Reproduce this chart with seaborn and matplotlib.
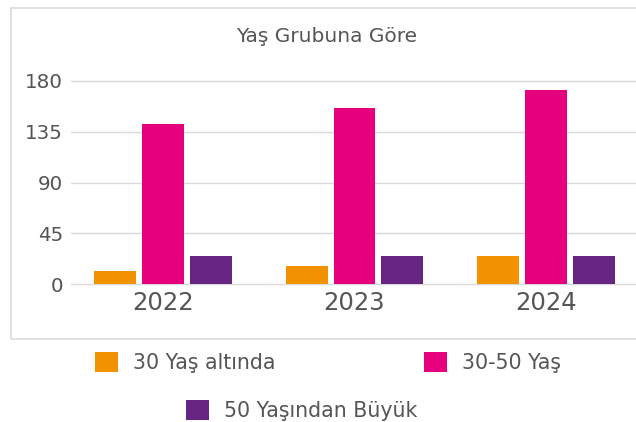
import seaborn as sns
import pandas as pd
import matplotlib.pyplot as plt
from matplotlib.patches import Rectangle

years = ['2022', '2023', '2024']
groups = ['30 Yaş altında', '30-50 Yaş', '50 Yaşından Büyük']
under30 = [12, 16, 25]
mid30_50 = [142, 156, 172]
over50 = [25, 25, 25]
yticks = [0, 45, 90, 135, 180]
title = 'Yaş Grubuna Göre'

colors = ['#F39200', '#E6007E', '#662483']
txt = '#555555'

rows = []
for g, vals in zip(groups, [under30, mid30_50, over50]):
    for y, v in zip(years, vals):
        rows.append({'year': y, 'group': g, 'value': v})
df = pd.DataFrame(rows)

sns.set_style('white')
plt.rcParams['font.family'] = ['DejaVu Sans']

fig = plt.figure(figsize=(6.36, 4.22), dpi=100)
W, H = 636, 422
# axes placed in pixel terms
ax = fig.add_axes([70.7 / W, (H - 284.3) / H, (638 - 70.7) / W, 189 * 1.1296 / H])

sns.barplot(data=df, x='year', y='value', hue='group', palette=colors,
            width=0.75, gap=0.125, saturation=1, linewidth=0, ax=ax)
handles, labels = ax.get_legend_handles_labels()
ax.get_legend().remove()

ax.set_xlim(-0.482, 2.481)
ax.set_ylim(0, 189)
ax.set_yticks(yticks)
ax.set_yticklabels([str(t) for t in yticks])
ax.set_xlabel('')
ax.set_ylabel('')
ax.yaxis.grid(True, color='#d9d9d9', lw=1.0)
for gl in ax.get_ygridlines():
    gl.set_clip_on(False)
ax.set_axisbelow(True)
for s in ax.spines.values():
    s.set_visible(False)
ax.tick_params(axis='y', length=0, pad=5.5, labelsize=14.3, labelcolor=txt)
ax.tick_params(axis='x', length=0, pad=5, labelsize=17.5, labelcolor=txt)

fig.text(327 / W, (H - 41.7) / H, title, ha='center', va='baseline',
         fontsize=14.5, color=txt)

# outer frame
fig.add_artist(Rectangle((10.5 / W, (H - 339) / H), 1.05, (339 - 8.3) / H,
                         transform=fig.transFigure, fill=False,
                         edgecolor='#dcdcdc', lw=1.2))

# legend entries placed like the original
pos = [(95, 362.3), (424, 362.3), (186, 410.5)]
for h, l, (px, py) in zip(handles, labels, pos):
    fig.legend([h], [l], loc='center left', bbox_to_anchor=(px / W, (H - py) / H),
               frameon=False, fontsize=14.8, labelcolor=txt, borderpad=0,
               borderaxespad=0, handlelength=1.1, handleheight=1.1,
               handletextpad=0.75)

fig.savefig('out.png', dpi=100)
